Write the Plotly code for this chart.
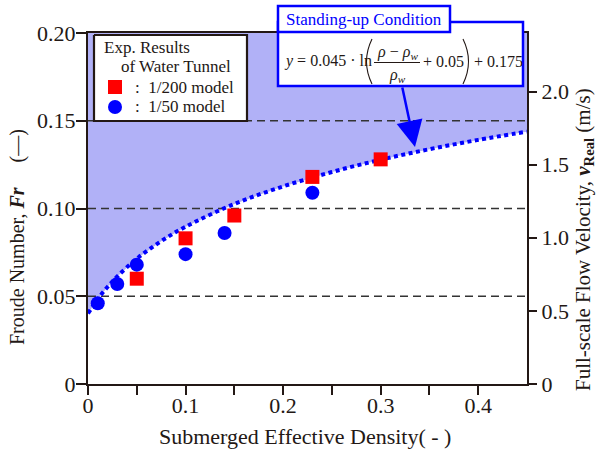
import plotly.graph_objects as go

# ---------------- data ----------------
# Standing-up condition curve (read off the chart / its stated fit)
curve_x = [0.0, 0.01, 0.02, 0.03, 0.05, 0.075, 0.10, 0.15, 0.20, 0.25, 0.30, 0.35, 0.40, 0.45]
curve_y = [0.0402, 0.0484, 0.0553, 0.0613, 0.0714, 0.0814, 0.0896, 0.1026, 0.1126, 0.1208, 0.1278, 0.1338, 0.1391, 0.1438]
fill_top = 0.20

# Exp. results of water tunnel
m200_x = [0.05, 0.10, 0.15, 0.23, 0.30]
m200_y = [0.060, 0.083, 0.096, 0.118, 0.128]
m50_x = [0.01, 0.03, 0.05, 0.10, 0.14, 0.23]
m50_y = [0.046, 0.057, 0.068, 0.074, 0.086, 0.109]

grid_y = [0.05, 0.10, 0.15]

x_ticks = [0, 0.10, 0.20, 0.30, 0.40]
x_ticktext = ["0", "0.1", "0.2", "0.3", "0.4"]
x_minor_ticks = [0.05, 0.15, 0.25, 0.35]
y_ticks = [0, 0.05, 0.10, 0.15, 0.20]
y_ticktext = ["0", "0.05", "0.10", "0.15", "0.20"]
y2_ticks = [0, 0.5, 1.0, 1.5, 2.0]
y2_ticktext = ["0", "0.5", "1.0", "1.5", "2.0"]

X_RANGE = [0, 0.45]
Y_RANGE = [0, 0.20]
Y2_RANGE = [0, 2.40]

# ---------------- style ----------------
FONT = "Liberation Serif"
INK = "#231815"
BLUE = "#0000ff"
RED = "#ff0000"
FILL = "#b1b1f7"

L, R, T, B = 88, 527, 33, 384
W, H = R - L, B - T


def px(x):
    return (x - L) / W


def py(y):
    return (B - y) / H


fig = go.Figure()

# shaded region above curve
fig.add_trace(go.Scatter(
    x=curve_x + curve_x[::-1],
    y=curve_y + [fill_top] * len(curve_x),
    fill="toself", fillcolor=FILL, line=dict(width=0),
    mode="lines", showlegend=False, hoverinfo="skip"))

# dashed grid lines (drawn above the fill)
gx, gy = [], []
for g in grid_y:
    gx += [X_RANGE[0], X_RANGE[1], None]
    gy += [g, g, None]
fig.add_trace(go.Scatter(x=gx, y=gy, mode="lines",
                         line=dict(color="#333333", width=1.4, dash="8px,5px"),
                         showlegend=False, hoverinfo="skip"))

# curve
fig.add_trace(go.Scatter(x=curve_x, y=curve_y, mode="lines",
                         line=dict(color=BLUE, width=4, dash="4px,3.5px", shape="spline"),
                         showlegend=False, hoverinfo="skip"))

fig.add_trace(go.Scatter(x=m200_x, y=m200_y, mode="markers",
                         marker=dict(symbol="square", size=14, color=RED),
                         name="1/200 model", showlegend=False))
fig.add_trace(go.Scatter(x=m50_x, y=m50_y, mode="markers",
                         marker=dict(symbol="circle", size=14, color=BLUE),
                         name="1/50 model", showlegend=False))

# dummy trace for the right axis
fig.add_trace(go.Scatter(x=[None], y=[None], yaxis="y2", showlegend=False, hoverinfo="skip"))

# ---- legend drawn on a hidden pixel-space overlay axis ----
LEG = dict(xaxis="x3", yaxis="y3", showlegend=False, hoverinfo="skip")
fig.add_trace(go.Scatter(x=[94, 247, 247, 94, 94], y=[35, 35, 121, 121, 35],
                         mode="lines", fill="toself", fillcolor="white",
                         line=dict(color=INK, width=2.2), **LEG))
fig.add_trace(go.Scatter(x=[115], y=[87], mode="markers",
                         marker=dict(symbol="square", size=14, color=RED), **LEG))
fig.add_trace(go.Scatter(x=[115], y=[107], mode="markers",
                         marker=dict(symbol="circle", size=14, color=BLUE), **LEG))

shapes = []
# equation box and title box
shapes.append(dict(type="rect", xref="paper", yref="paper",
                   x0=px(278), x1=px(523), y0=py(86), y1=py(22),
                   fillcolor="white", line=dict(color=BLUE, width=2.5), layer="above"))
shapes.append(dict(type="rect", xref="paper", yref="paper",
                   x0=px(278), x1=px(450), y0=py(32), y1=py(6),
                   fillcolor="white", line=dict(color=BLUE, width=2.5), layer="above"))
# fraction line
shapes.append(dict(type="line", xref="paper", yref="paper",
                   x0=px(374), x1=px(420), y0=py(62.5), y1=py(62.5),
                   line=dict(color=INK, width=1), layer="above"))


def paren(x_end, x_ctrl, y0, y1):
    ym = (y0 + y1) / 2
    return (f"M {px(x_end)},{py(y0)} Q {px(x_ctrl)},{py(ym)} {px(x_end)},{py(y1)}")


shapes.append(dict(type="path", xref="paper", yref="paper",
                   path=paren(372, 361, 39, 84), line=dict(color=INK, width=1.1), layer="above"))
shapes.append(dict(type="path", xref="paper", yref="paper",
                   path=paren(463, 474, 39, 84), line=dict(color=INK, width=1.1), layer="above"))

annotations = []


def txt(text, x, y, size, color=INK, xanchor="center", angle=0):
    annotations.append(dict(text=text, x=px(x), y=py(y), xref="paper", yref="paper",
                            showarrow=False, xanchor=xanchor, yanchor="middle",
                            textangle=angle, font=dict(family=FONT, size=size, color=color)))


txt("Standing-up Condition", 364, 19, 17, BLUE)
txt("<i>y</i> = 0.045 · ln", 282, 61, 16, xanchor="left")
txt("<i>ρ</i> − <i>ρ</i><sub><i>w</i></sub>", 397, 52, 16)
txt("<i>ρ</i><sub><i>w</i></sub>", 397, 75, 16)
txt("+ 0.05", 421, 61, 16, xanchor="left")
txt("+ 0.175", 472, 61, 16, xanchor="left")

# legend texts
txt("Exp. Results", 102, 47, 17, xanchor="left")
txt("of Water Tunnel", 119, 67, 17, xanchor="left")
txt(":  1/200 model", 133, 87, 17, xanchor="left")
txt(":  1/50 model", 133, 107, 17, xanchor="left")

# arrow
annotations.append(dict(x=px(415), y=py(147), xref="paper", yref="paper",
                        ax=402 - 415, ay=86 - 147, showarrow=True, text="",
                        arrowhead=2, arrowsize=2.1, arrowwidth=2.5, arrowcolor=BLUE))

# axis titles
txt("Submerged Effective Density( - )", 305, 436, 22)
txt("Froude Number, <b><i>Fr</i></b>\u00a0\u00a0\u00a0\u00a0\u00a0(—)", 18, 237, 20, angle=-90)
txt("Full-scale Flow Velocity, <b><i>v</i><sub>Real</sub></b> (m/s)", 584, 240, 21, angle=-90)

axis_common = dict(showline=True, linecolor=INK, linewidth=2, ticks="outside",
                   tickcolor=INK, tickwidth=2, showgrid=False, zeroline=False,
                   tickfont=dict(family=FONT, size=22, color=INK))

fig.update_layout(
    width=600, height=452,
    margin=dict(l=L, r=600 - R, t=T, b=452 - B),
    paper_bgcolor="white", plot_bgcolor="white",
    xaxis=dict(range=X_RANGE, tickmode="array", tickvals=x_ticks, ticktext=x_ticktext,
               ticklen=9, mirror=True, ticklabelstandoff=-8,
               minor=dict(tickmode="array", tickvals=x_minor_ticks, ticks="outside",
                          ticklen=9, tickwidth=2, tickcolor=INK, showgrid=False),
               **axis_common),
    yaxis=dict(range=Y_RANGE, tickmode="array", tickvals=y_ticks, ticktext=y_ticktext,
               ticklen=10, ticklabelstandoff=-4, **axis_common),
    yaxis2=dict(range=Y2_RANGE, overlaying="y", side="right", anchor="x",
                tickmode="array", tickvals=y2_ticks, ticktext=y2_ticktext,
                ticklen=8, **axis_common),
    xaxis3=dict(range=[L, R], overlaying="x", visible=False, anchor="y3"),
    yaxis3=dict(range=[B, T], overlaying="y", visible=False, anchor="x3"),
    shapes=shapes,
    annotations=annotations,
    showlegend=False,
)

fig.write_html("out.html", config={"displayModeBar": False},
               post_script="document.body.style.margin='0';document.body.style.overflow='hidden';")
